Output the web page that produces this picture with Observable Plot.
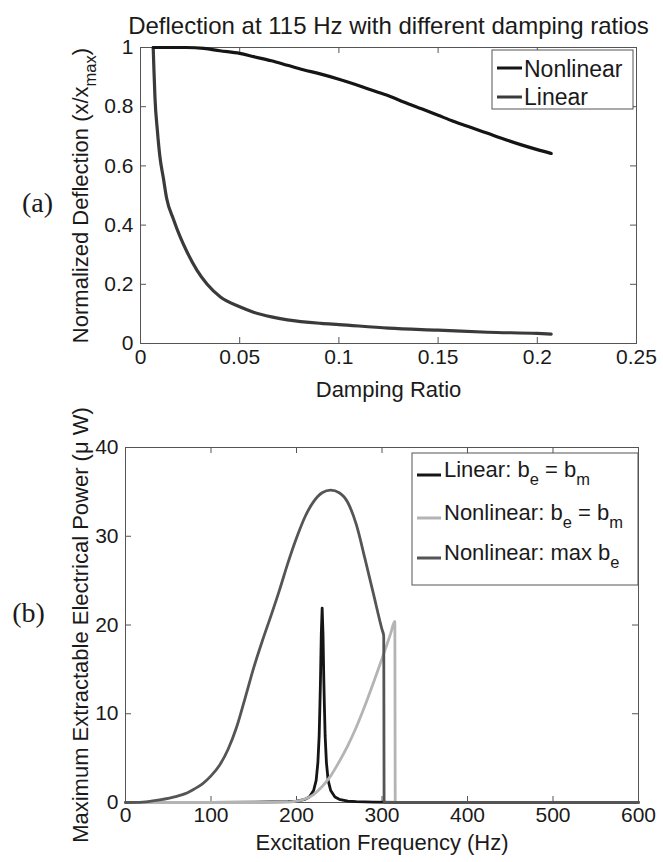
<!DOCTYPE html>
<html><head><meta charset="utf-8">
<script src="https://cdn.jsdelivr.net/npm/d3@7"></script>
<script src="https://cdn.jsdelivr.net/npm/@observablehq/plot@0.6"></script>
<style>
body{margin:0;background:#fff;}
#wrap{position:relative;width:663px;height:862px;overflow:hidden;background:#fff}
#wrap svg{position:absolute;left:0;overflow:visible}
</style></head><body><div id="wrap"></div>
<script>
// ---------- data ----------
const titleTop = "Deflection at 115 Hz with different damping ratios";
const xLabelTop = "Damping Ratio";
const yLabelTop = "Normalized Deflection (x/x_{max})";
const xTicksTop = [0, 0.05, 0.1, 0.15, 0.2, 0.25];
const yTicksTop = [0, 0.2, 0.4, 0.6, 0.8, 1];
const seriesTop = ["Nonlinear", "Linear"];

const dampingNonlinear = [0.0064, 0.015, 0.023, 0.032, 0.040, 0.05, 0.057, 0.066, 0.074, 0.082, 0.091, 0.1, 0.108, 0.116, 0.125, 0.133, 0.142, 0.15, 0.158, 0.167, 0.175, 0.183, 0.192, 0.2, 0.207];
const deflNonlinear    = [1.0, 1.0, 1.0, 0.997, 0.989, 0.98, 0.969, 0.955, 0.94, 0.925, 0.91, 0.893, 0.876, 0.857, 0.837, 0.815, 0.792, 0.771, 0.75, 0.729, 0.71, 0.691, 0.671, 0.655, 0.642];

const dampingLinear = [0.0064, 0.0068, 0.0073, 0.0085, 0.0098, 0.0115, 0.0132, 0.0166, 0.02, 0.0234, 0.0285, 0.0336, 0.0403, 0.05, 0.0573, 0.066, 0.074, 0.091, 0.1, 0.125, 0.15, 0.175, 0.2, 0.207];
const deflLinear    = [1.0, 0.92, 0.83, 0.72, 0.63, 0.56, 0.49, 0.42, 0.36, 0.31, 0.247, 0.2, 0.157, 0.124, 0.105, 0.09, 0.08, 0.068, 0.064, 0.052, 0.045, 0.038, 0.034, 0.032];

const xLabelBottom = "Excitation Frequency (Hz)";
const yLabelBottom = "Maximum Extractable Electrical Power (μ W)";
const xTicksBottom = [0, 100, 200, 300, 400, 500, 600];
const yTicksBottom = [0, 10, 20, 30, 40];
const seriesBottom = ["Linear: b_{e} = b_{m}", "Nonlinear: b_{e} = b_{m}", "Nonlinear: max b_{e}"];

const freqLinear  = [0, 100, 150, 170, 190, 200, 210, 215, 220, 223, 225, 226.5, 227.4, 228, 229, 230, 231, 232, 232.6, 233.5, 235, 237, 240, 245, 250, 260, 270, 290, 320, 400, 600];
const powerLinear = [0, 0.02, 0.04, 0.06, 0.1, 0.16, 0.36, 0.62, 1.35, 2.5, 4.5, 7.5, 11, 13.6, 19, 21.9, 19, 13.6, 11, 7.5, 4.5, 2.5, 1.35, 0.62, 0.36, 0.16, 0.09, 0.04, 0.02, 0.01, 0];

const freqNLequal  = [0, 150, 190, 200, 210, 220, 230, 240, 250, 260, 270, 280, 290, 300, 310, 315, 315.5, 600];
const powerNLequal = [0, 0, 0.05, 0.15, 0.4, 0.9, 1.8, 3.0, 4.6, 6.4, 8.5, 10.9, 13.5, 16.2, 19.0, 20.4, 0, 0];

const freqNLmax  = [0, 20, 40, 60, 70, 80, 90, 100, 110, 120, 130, 140, 150, 160, 170, 180, 190, 200, 210, 220, 230, 240, 250, 260, 270, 280, 290, 300, 302, 302.5, 600];
const powerNLmax = [0, 0.05, 0.3, 0.7, 1.0, 1.5, 2.1, 3.0, 4.2, 6.0, 8.5, 11.8, 15.2, 18.2, 21.0, 23.9, 27.0, 29.8, 32.2, 33.9, 34.9, 35.2, 34.9, 33.8, 31.3, 27.5, 23.5, 19.5, 18.8, 0, 0];

// ---------- styling ----------
const FONT = "'Liberation Sans', Arial, Helvetica, sans-serif";
const SERIF = "'Liberation Serif', 'Times New Roman', serif";
const INK = "#1a1a1a";
const FRAME = "#555";
const colTop = {"Nonlinear": "#151515", "Linear": "#3a3a3a"};
const colBottom = ["#151515", "#b4b4b4", "#555555"];
const curveBottom = ["linear", "monotone-x", "monotone-x"];

const W = 663;
const wrap = document.getElementById("wrap");

function rows(xs, ys) { return xs.map((x, i) => ({x, y: ys[i]})); }

function inwardTicks(xt, yt, innerW, innerH, len) {
  return [
    Plot.tickX(xt, {x: d => d, insetTop: innerH - len, stroke: FRAME, strokeWidth: 1}),
    Plot.tickX(xt, {x: d => d, insetBottom: innerH - len, stroke: FRAME, strokeWidth: 1}),
    Plot.tickY(yt, {y: d => d, insetLeft: innerW - len, stroke: FRAME, strokeWidth: 1}),
    Plot.tickY(yt, {y: d => d, insetRight: innerW - len, stroke: FRAME, strokeWidth: 1})
  ];
}

const label = (txt, o) => Plot.text([txt], {textAnchor: "middle", lineAnchor: "middle", fill: INK, ...o});

// ---------- top chart ----------
const T = {h: 410, ml: 140, mr: 27, mt: 47, mb: 67};
const TiW = W - T.ml - T.mr, TiH = T.h - T.mt - T.mb;
const topSvg = Plot.plot({
  width: W, height: T.h,
  marginLeft: T.ml, marginRight: T.mr, marginTop: T.mt, marginBottom: T.mb,
  style: {fontFamily: FONT, fontSize: "21px", color: INK, background: "transparent", overflow: "visible"},
  x: {domain: [0, 0.25]},
  y: {domain: [0, 1]},
  marks: [
    Plot.frame({stroke: FRAME, strokeWidth: 1}),
    ...inwardTicks(xTicksTop, yTicksTop, TiW, TiH, 6),
    Plot.axisX({ticks: xTicksTop, tickSize: 0, tickPadding: 6, tickFormat: d => String(d), label: null}),
    Plot.axisY({ticks: yTicksTop, tickSize: 0, tickPadding: 7, tickFormat: d => String(d), label: null}),
    Plot.line(rows(dampingLinear, deflLinear), {x: "x", y: "y", stroke: colTop["Linear"], strokeWidth: 3.2, curve: "monotone-x"}),
    Plot.line(rows(dampingNonlinear, deflNonlinear), {x: "x", y: "y", stroke: colTop["Nonlinear"], strokeWidth: 3.2, curve: "monotone-x"}),
    label(titleTop, {frameAnchor: "top", dy: -21, fontSize: 24}),
    label(xLabelTop, {frameAnchor: "bottom", dy: 46, fontSize: 22}),
    label(yLabelTop, {frameAnchor: "left", rotate: -90, dx: -60, fontSize: 22}),
    label("(a)", {frameAnchor: "left", dx: -103, dy: 8, fontSize: 28, fontFamily: SERIF})
  ]
});
topSvg.style.top = "0px";
wrap.appendChild(topSvg);

// ---------- bottom chart ----------
const B = {top: 410, h: 452, ml: 125, mr: 25, mt: 37, mb: 60};
const BiW = W - B.ml - B.mr, BiH = B.h - B.mt - B.mb;
const bottomData = [
  {name: seriesBottom[0], data: rows(freqLinear, powerLinear), color: colBottom[0], curve: curveBottom[0]},
  {name: seriesBottom[1], data: rows(freqNLequal, powerNLequal), color: colBottom[1], curve: curveBottom[1]},
  {name: seriesBottom[2], data: rows(freqNLmax, powerNLmax), color: colBottom[2], curve: curveBottom[2]}
];
const bottomSvg = Plot.plot({
  width: W, height: B.h,
  marginLeft: B.ml, marginRight: B.mr, marginTop: B.mt, marginBottom: B.mb,
  style: {fontFamily: FONT, fontSize: "21px", color: INK, background: "transparent", overflow: "visible"},
  x: {domain: [0, 600]},
  y: {domain: [0, 40]},
  marks: [
    Plot.frame({stroke: FRAME, strokeWidth: 1}),
    ...inwardTicks(xTicksBottom, yTicksBottom, BiW, BiH, 6),
    Plot.axisX({ticks: xTicksBottom, tickSize: 0, tickPadding: 5, tickFormat: d => String(d), label: null}),
    Plot.axisY({ticks: yTicksBottom, tickSize: 0, tickPadding: 7, tickFormat: d => String(d), label: null}),
    ...bottomData.map(s => Plot.line(s.data, {x: "x", y: "y", stroke: s.color, strokeWidth: 2.8, curve: s.curve})),
    label(xLabelBottom, {frameAnchor: "bottom", dy: 40, fontSize: 22}),
    label(yLabelBottom, {frameAnchor: "left", rotate: -90, dx: -45, fontSize: 22}),
    label("(b)", {frameAnchor: "left", dx: -97, dy: -12, fontSize: 28, fontFamily: SERIF})
  ]
});
bottomSvg.style.top = B.top + "px";
wrap.appendChild(bottomSvg);

// ---------- rich text (subscripts) ----------
function setRich(textEl, str, fs) {
  const sel = d3.select(textEl);
  sel.text(null);
  const parts = str.split(/_\{([^}]*)\}/);
  const shift = fs * 0.38, subFs = fs * 0.75;
  let down = false;
  parts.forEach((p, i) => {
    if (p === "") return;
    const isSub = i % 2 === 1;
    const ts = sel.append("tspan").text(p);
    if (isSub) {
      ts.attr("font-size", subFs);
      if (!down) { ts.attr("dy", shift); down = true; }
    } else {
      if (down) { ts.attr("dy", -shift); down = false; }
    }
  });
}
[topSvg, bottomSvg].forEach(svg => {
  d3.select(svg).selectAll("text").each(function() {
    const t = this.textContent;
    if (t.includes("_{")) setRich(this, t, parseFloat(getComputedStyle(this).fontSize));
  });
});

// ---------- legends ----------
function legend(svg, box, items, fs) {
  const g = d3.select(svg).append("g").attr("font-family", FONT).attr("font-size", fs)
    .attr("fill", INK).attr("text-anchor", "start");
  g.append("rect").attr("x", box.x).attr("y", box.y).attr("width", box.w).attr("height", box.h)
    .attr("fill", "#fff").attr("stroke", FRAME).attr("stroke-width", 1);
  items.forEach(it => {
    g.append("line").attr("x1", box.lx1).attr("x2", box.lx2).attr("y1", it.ly).attr("y2", it.ly)
      .attr("stroke", it.color).attr("stroke-width", 3);
    const t = g.append("text").attr("x", box.tx).attr("y", it.ty).attr("text-anchor", "start");
    setRich(t.node(), it.label, fs);
  });
}
legend(topSvg, {x: 492, y: 50, w: 141, h: 59, lx1: 497, lx2: 522, tx: 524},
  [{label: seriesTop[0], color: colTop["Nonlinear"], ly: 68, ty: 77},
   {label: seriesTop[1], color: colTop["Linear"], ly: 97, ty: 105}], 23);
legend(bottomSvg, {x: 412, y: 453 - B.top, w: 226, h: 132, lx1: 417, lx2: 441, tx: 444},
  bottomData.map((s, i) => ({label: s.name, color: s.color, ly: [475, 518, 558][i] - B.top, ty: [477, 520, 560][i] - B.top})), 22);
</script></body></html>
